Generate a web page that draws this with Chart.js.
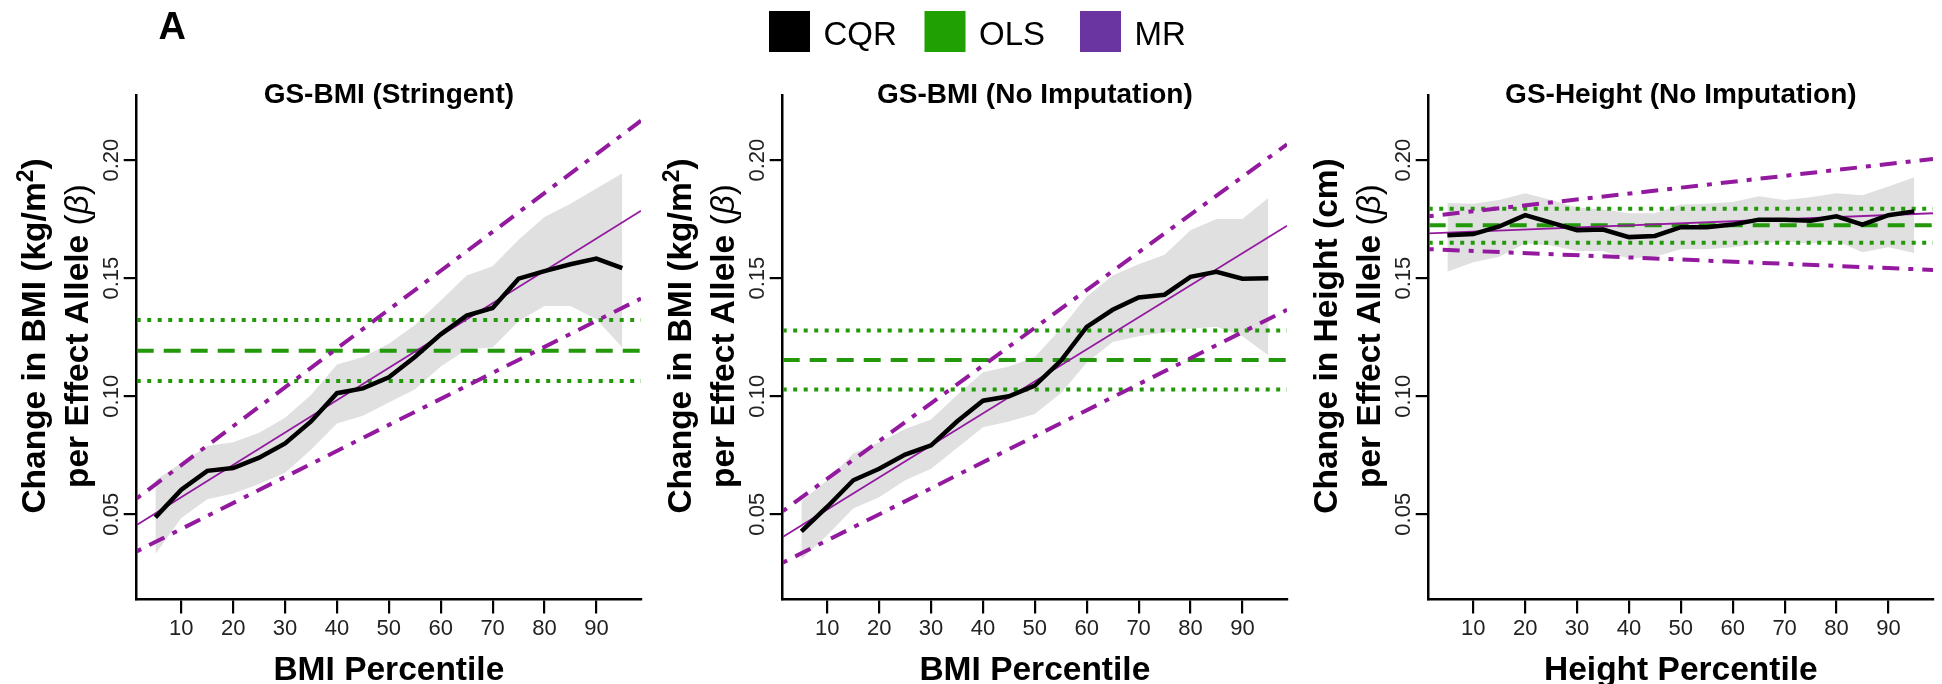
<!DOCTYPE html>
<html>
<head>
<meta charset="utf-8">
<title>CQR vs OLS vs MR</title>
<script src="https://cdn.jsdelivr.net/npm/chart.js@4.4.1/dist/chart.umd.min.js"></script>
<style>
  body { margin: 0; background: #fff; width: 1942px; height: 684px; overflow: hidden; position: relative; }
  .panel { position: absolute; top: 0; width: 646px; height: 684px; }
</style>
</head>
<body>
<div class="panel" style="left:0px"><canvas id="chart1" width="646" height="684"></canvas></div>
<div class="panel" style="left:646px"><canvas id="chart2" width="646" height="684"></canvas></div>
<div class="panel" style="left:1292px"><canvas id="chart3" width="646" height="684"></canvas></div>
<script>
// percentiles where the quantile regressions were fit
const percentiles = [5, 10, 15, 20, 25, 30, 35, 40, 45, 50, 55, 60, 65, 70, 75, 80, 85, 90, 95];
const xTicks = [10, 20, 30, 40, 50, 60, 70, 80, 90];
const yTicks = [0.05, 0.10, 0.15, 0.20];
const xLimits = [1.4, 98.6];
const yLimits = [0.0139, 0.2273];

// GS-BMI (Stringent)
const cqrStringent = [0.0487, 0.0604, 0.0684, 0.0696, 0.0740, 0.0800, 0.0893, 0.1013, 0.1033, 0.1080, 0.1166, 0.1262, 0.1342, 0.1374, 0.1498, 0.1530, 0.1559, 0.1583, 0.1543];
const cqrStringentUpper = [0.0644, 0.0717, 0.0789, 0.0805, 0.0845, 0.0909, 0.1005, 0.1134, 0.1166, 0.1222, 0.1302, 0.1406, 0.1511, 0.1551, 0.1663, 0.1759, 0.1815, 0.1880, 0.1944];
const cqrStringentLower = [0.0332, 0.0484, 0.0564, 0.0588, 0.0628, 0.0676, 0.0773, 0.0885, 0.0917, 0.0973, 0.1029, 0.1126, 0.1198, 0.1206, 0.1318, 0.1382, 0.1382, 0.1326, 0.1206];
const olsStringent = [0.1193, 0.1065, 0.1323]; // estimate, lower, upper
const mrStringent = [0.0455, 0.1786]; // at the x limits
const mrStringentUpper = [0.0567, 0.2167];
const mrStringentLower = [0.0343, 0.1414];

// GS-BMI (No Imputation)
const cqrBmi = [0.0428, 0.0532, 0.0644, 0.0693, 0.0753, 0.0792, 0.0893, 0.0981, 0.1000, 0.1045, 0.1150, 0.1294, 0.1366, 0.1418, 0.1430, 0.1506, 0.1527, 0.1498, 0.1500];
const cqrBmiUpper = [0.0556, 0.0644, 0.0757, 0.0805, 0.0861, 0.0901, 0.1005, 0.1102, 0.1126, 0.1166, 0.1286, 0.1422, 0.1511, 0.1559, 0.1599, 0.1703, 0.1751, 0.1751, 0.1840];
const cqrBmiLower = [0.0308, 0.0412, 0.0524, 0.0572, 0.0644, 0.0693, 0.0781, 0.0869, 0.0893, 0.0925, 0.1013, 0.1142, 0.1230, 0.1254, 0.1270, 0.1286, 0.1294, 0.1254, 0.1174];
const olsBmi = [0.1154, 0.1029, 0.1278];
const mrBmi = [0.0404, 0.1722];
const mrBmiUpper = [0.0513, 0.2067];
const mrBmiLower = [0.0295, 0.1366];

// GS-Height (No Imputation)
const cqrHeight = [0.1682, 0.1687, 0.1719, 0.1767, 0.1735, 0.1703, 0.1706, 0.1674, 0.1679, 0.1716, 0.1716, 0.1727, 0.1748, 0.1748, 0.1743, 0.1762, 0.1727, 0.1767, 0.1783];
const cqrHeightUpper = [0.1819, 0.1815, 0.1831, 0.1860, 0.1831, 0.1799, 0.1791, 0.1775, 0.1775, 0.1812, 0.1815, 0.1823, 0.1847, 0.1831, 0.1843, 0.1860, 0.1851, 0.1888, 0.1928];
const cqrHeightLower = [0.1527, 0.1567, 0.1591, 0.1647, 0.1639, 0.1615, 0.1615, 0.1583, 0.1591, 0.1623, 0.1623, 0.1631, 0.1647, 0.1655, 0.1647, 0.1658, 0.1610, 0.1631, 0.1607];
const olsHeight = [0.1724, 0.1650, 0.1794];
const mrHeight = [0.1690, 0.1775];
const mrHeightUpper = [0.1762, 0.2005];
const mrHeightLower = [0.1623, 0.1535];

const legendItems = ["CQR", "OLS", "MR"];
const legendColors = ["#000000", "#21a003", "#6a35a0"];

const FONT = '"Liberation Sans", Arial, Helvetica, sans-serif';
const mrColor = "#931a9f";
const olsColor = "#22980a";
const bandColor = "#e0e0e0";

function toPoints(xs, ys) {
  return xs.map((x, i) => ({ x: x, y: ys[i] }));
}

// draws a list of text runs with different fonts, centred on 0
function drawRuns(ctx, runs) {
  let total = 0;
  runs.forEach((r) => {
    ctx.font = r.font;
    r.w = ctx.measureText(r.text).width;
    total += r.w;
  });
  let x = -total / 2;
  runs.forEach((r) => {
    ctx.font = r.font;
    ctx.fillText(r.text, x, r.dy || 0);
    x += r.w;
  });
}

const decor = {
  id: "decor",
  afterDraw(chart, args, opts) {
    const ctx = chart.ctx;
    const area = chart.chartArea;
    const yScale = chart.scales.y;
    ctx.save();
    ctx.fillStyle = "#000";
    ctx.textBaseline = "alphabetic";

    // subtitle
    ctx.textAlign = "center";
    ctx.font = "bold 28px " + FONT;
    ctx.fillText(opts.subtitle, (area.left + area.right) / 2, 103.3);

    // y tick labels, rotated like R
    ctx.fillStyle = "#222";
    yTicks.forEach((v) => {
      ctx.save();
      ctx.translate(area.left - 18.4, yScale.getPixelForValue(v));
      ctx.rotate(-Math.PI / 2);
      ctx.font = "22px " + FONT;
      ctx.textAlign = "center";
      ctx.fillText(v.toFixed(2), 0, 0);
      ctx.restore();
    });

    // two line y title
    ctx.fillStyle = "#000";
    ctx.textAlign = "left";
    const midY = 336;
    [[opts.yLine1, 91.7], [opts.yLine2, 48.4]].forEach(([runs, off]) => {
      ctx.save();
      ctx.translate(area.left - off, midY);
      ctx.rotate(-Math.PI / 2);
      drawRuns(ctx, runs);
      ctx.restore();
    });

    if (opts.panelLetter) {
      ctx.font = "bold 38px " + FONT;
      ctx.fillText(opts.panelLetter, 158.5, 38.5);
    }

    if (opts.legendX !== undefined) {
      let x = opts.legendX;
      legendItems.forEach((label, i) => {
        ctx.fillStyle = legendColors[i];
        ctx.fillRect(x, 11, 41, 41);
        ctx.fillStyle = "#000";
        ctx.font = "33px " + FONT;
        ctx.fillText(label, x + 54.5, 45);
        x += 155.5;
      });
    }
    ctx.restore();
  },
};

function makePanel(canvasId, p) {
  const bold = "bold 33.5px " + FONT;
  const plain = "33.5px " + FONT;
  const line2 = [
    { text: "per Effect Allele ", font: bold },
    { text: "(", font: plain },
    { text: "\u03b2", font: "italic 33.5px " + FONT },
    { text: ")", font: plain },
  ];

  const hline = (v) => toPoints(xLimits, [v, v]);

  return new Chart(document.getElementById(canvasId), {
    type: "line",
    data: {
      datasets: [
        { label: "CQR", data: toPoints(percentiles, p.cqr), borderColor: "#000", borderWidth: 4.5, fill: false },
        { label: "MR", data: toPoints(xLimits, p.mr), borderColor: mrColor, borderWidth: 1.8, fill: false },
        { label: "MR upper", data: toPoints(xLimits, p.mrUpper), borderColor: mrColor, borderWidth: 4, borderDash: [5, 9, 17, 9], fill: false },
        { label: "MR lower", data: toPoints(xLimits, p.mrLower), borderColor: mrColor, borderWidth: 4, borderDash: [5, 9, 17, 9], fill: false },
        { label: "OLS", data: hline(p.ols[0]), borderColor: olsColor, borderWidth: 4, borderDash: [17, 10], fill: false },
        { label: "OLS lower", data: hline(p.ols[1]), borderColor: olsColor, borderWidth: 4, borderDash: [4, 6.5], fill: false },
        { label: "OLS upper", data: hline(p.ols[2]), borderColor: olsColor, borderWidth: 4, borderDash: [4, 6.5], fill: false },
        { label: "CQR upper", data: toPoints(percentiles, p.upper), borderColor: "rgba(0,0,0,0)", borderWidth: 0, backgroundColor: bandColor, fill: "+1" },
        { label: "CQR lower", data: toPoints(percentiles, p.lower), borderColor: "rgba(0,0,0,0)", borderWidth: 0, fill: false },
      ],
    },
    options: {
      responsive: false,
      animation: false,
      devicePixelRatio: 1,
      layout: { padding: { top: 95.7, right: 5, bottom: 0, left: 0 } },
      elements: { point: { radius: 0 }, line: { tension: 0, borderCapStyle: "butt" } },
      plugins: {
        legend: { display: false },
        tooltip: { enabled: false },
        decor: {
          subtitle: p.subtitle,
          yLine1: p.yLine1(bold),
          yLine2: line2,
          panelLetter: p.panelLetter,
          legendX: p.legendX,
        },
      },
      scales: {
        x: {
          type: "linear",
          min: xLimits[0],
          max: xLimits[1],
          afterBuildTicks: (scale) => {
            scale.ticks = xTicks.map((v) => ({ value: v }));
          },
          afterFit: (scale) => {
            scale.height = 84.5;
          },
          grid: { drawOnChartArea: false, drawTicks: true, tickLength: 14, color: "#000", lineWidth: 2.2 },
          border: { display: true, color: "#000", width: 2.5 },
          ticks: { font: { size: 22, family: FONT }, color: "#222", padding: 2, maxRotation: 0, autoSkip: false },
          title: {
            display: true,
            text: p.xTitle,
            color: "#000",
            font: { size: 33.5, weight: "bold", family: FONT, lineHeight: 0.8 },
            padding: { top: 0, bottom: 0 },
          },
        },
        y: {
          type: "linear",
          min: yLimits[0],
          max: yLimits[1],
          afterBuildTicks: (scale) => {
            scale.ticks = yTicks.map((v) => ({ value: v }));
          },
          afterFit: (scale) => {
            scale.width = 136.7;
          },
          grid: { drawOnChartArea: false, drawTicks: true, tickLength: 13, color: "#000", lineWidth: 2.2 },
          border: { display: true, color: "#000", width: 2.5 },
          ticks: { display: false },
        },
      },
    },
    plugins: [decor],
  });
}

const bmiLine1 = (bold) => [
  { text: "Change in BMI (kg/m", font: bold },
  { text: "2", font: "bold 23px " + FONT, dy: -12 },
  { text: ")", font: bold },
];

makePanel("chart1", {
  subtitle: "GS-BMI (Stringent)",
  xTitle: "BMI Percentile",
  yLine1: bmiLine1,
  panelLetter: "A",
  cqr: cqrStringent,
  upper: cqrStringentUpper,
  lower: cqrStringentLower,
  ols: olsStringent,
  mr: mrStringent,
  mrUpper: mrStringentUpper,
  mrLower: mrStringentLower,
});

makePanel("chart2", {
  subtitle: "GS-BMI (No Imputation)",
  xTitle: "BMI Percentile",
  yLine1: bmiLine1,
  legendX: 123,
  cqr: cqrBmi,
  upper: cqrBmiUpper,
  lower: cqrBmiLower,
  ols: olsBmi,
  mr: mrBmi,
  mrUpper: mrBmiUpper,
  mrLower: mrBmiLower,
});

makePanel("chart3", {
  subtitle: "GS-Height (No Imputation)",
  xTitle: "Height Percentile",
  yLine1: (bold) => [{ text: "Change in Height (cm)", font: bold }],
  cqr: cqrHeight,
  upper: cqrHeightUpper,
  lower: cqrHeightLower,
  ols: olsHeight,
  mr: mrHeight,
  mrUpper: mrHeightUpper,
  mrLower: mrHeightLower,
});
</script>
</body>
</html>
